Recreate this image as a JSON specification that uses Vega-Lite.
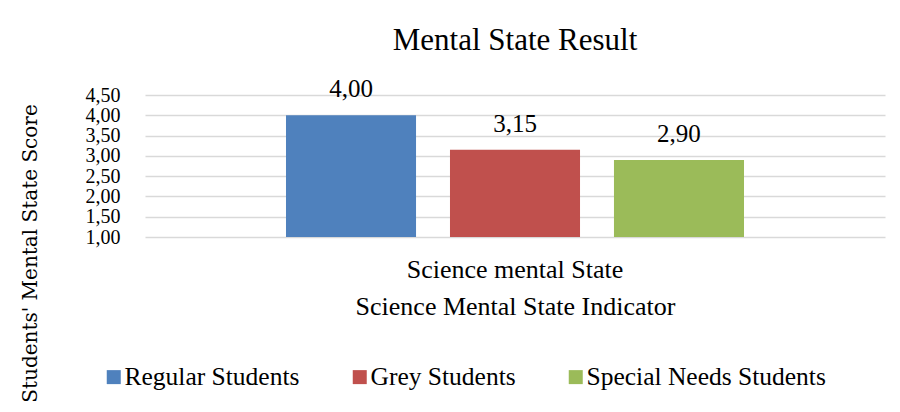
{
  "$schema": "https://vega.github.io/schema/vega-lite/v6.json",
  "width": 740,
  "height": 142,
  "autosize": {"type": "none"},
  "padding": {"left": 145, "top": 95, "right": 15, "bottom": 175},
  "background": "white",
  "title": {
    "text": "Mental State Result",
    "font": "Liberation Serif",
    "fontSize": 31,
    "fontWeight": "normal",
    "color": "#000000",
    "anchor": "middle",
    "offset": 20
  },
  "data": {
    "values": [
      {"indicator": "Science mental State", "group": "Regular Students", "score": 4.0},
      {"indicator": "Science mental State", "group": "Grey Students", "score": 3.15},
      {"indicator": "Science mental State", "group": "Special Needs Students", "score": 2.9}
    ]
  },
  "encoding": {
    "x": {
      "field": "indicator",
      "type": "nominal",
      "scale": {"paddingInner": 0, "paddingOuter": 0.252},
      "axis": {
        "title": "Science Mental State Indicator",
        "labelAngle": 0,
        "ticks": false,
        "domain": false,
        "labelFont": "Liberation Serif",
        "labelFontSize": 26,
        "labelColor": "#000000",
        "labelPadding": 19,
        "labelLimit": 600,
        "titleFont": "Liberation Serif",
        "titleFontSize": 26,
        "titleFontWeight": "normal",
        "titleColor": "#000000",
        "titlePadding": 11
      }
    },
    "xOffset": {
      "field": "group",
      "type": "nominal",
      "sort": ["Regular Students", "Grey Students", "Special Needs Students"],
      "scale": {"paddingInner": 0.207, "paddingOuter": 0.1037}
    },
    "y": {
      "field": "score",
      "type": "quantitative",
      "scale": {"domain": [1, 4.5], "zero": false, "nice": false},
      "axis": {
        "values": [1, 1.5, 2, 2.5, 3, 3.5, 4, 4.5],
        "format": ".2f",
        "grid": true,
        "gridColor": "#d9d9d9",
        "gridWidth": 1.5,
        "domain": false,
        "ticks": false,
        "labelOverlap": false,
        "labelFont": "Liberation Serif",
        "labelFontSize": 20,
        "labelColor": "#000000",
        "labelPadding": 25,
        "title": "Students' Mental State Score",
        "titleFont": "DejaVu Serif",
        "titleFontSize": 20,
        "titleFontWeight": "normal",
        "titleColor": "#000000",
        "titleX": -115,
        "titleY": 158,
        "titleBaseline": "middle",
        "titleAlign": "center"
      }
    }
  },
  "layer": [
    {
      "mark": {"type": "bar"},
      "encoding": {
        "y2": {"datum": 1},
        "color": {
          "field": "group",
          "type": "nominal",
          "scale": {
            "domain": ["Regular Students", "Grey Students", "Special Needs Students"],
            "range": ["#4F81BD", "#C0504D", "#9BBB59"]
          },
          "legend": {
            "orient": "none",
            "direction": "horizontal",
            "legendX": -44,
            "legendY": 269,
            "padding": 0,
            "title": null,
            "symbolType": "square",
            "symbolSize": 196,
            "symbolStrokeWidth": 0,
            "labelFont": "Liberation Serif",
            "labelFontSize": 25.5,
            "labelColor": "#000000",
            "labelOffset": -2,
            "columnPadding": 47,
            "labelLimit": 400
          }
        }
      }
    },
    {
      "mark": {
        "type": "text",
        "baseline": "bottom",
        "dy": -13,
        "font": "Liberation Serif",
        "fontSize": 25,
        "color": "#000000"
      },
      "encoding": {
        "text": {"field": "score", "type": "quantitative", "format": ".2f"}
      }
    }
  ],
  "config": {
    "view": {"stroke": null},
    "locale": {
      "number": {"decimal": ",", "thousands": ".", "grouping": [3], "currency": ["", "€"]}
    }
  }
}
